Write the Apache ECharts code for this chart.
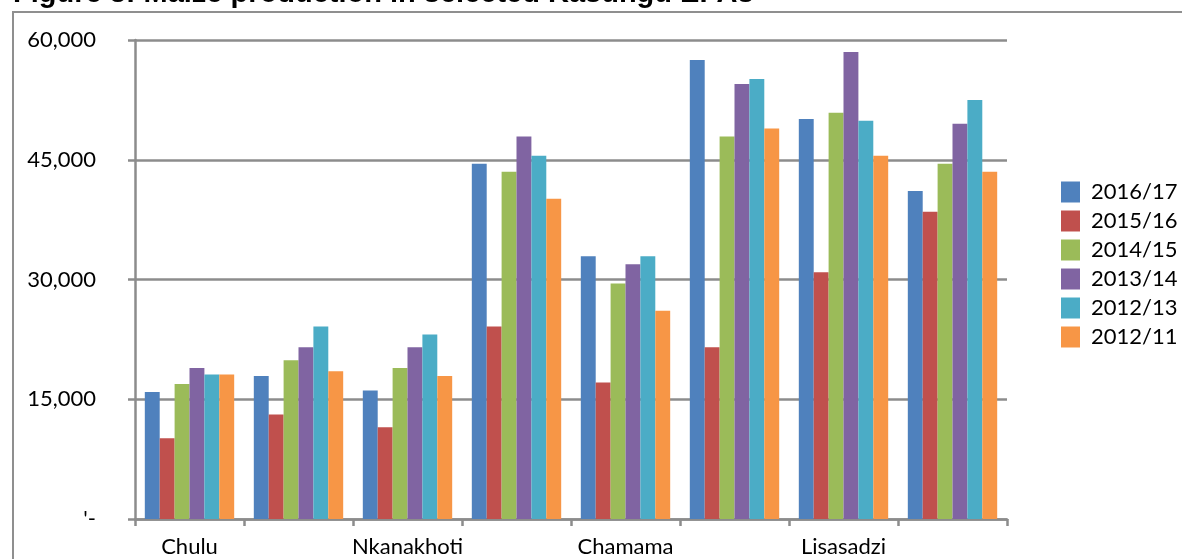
<!DOCTYPE html>
<html>
<head>
<meta charset="utf-8">
<style>
  html, body { margin: 0; padding: 0; background: #ffffff; }
  #chart { width: 1182px; height: 559px; }
</style>
<script src="https://cdn.jsdelivr.net/npm/echarts@6/dist/echarts.min.js"></script>
</head>
<body>
<div id="chart"></div>
<script>
// Maize production (tonnes) by EPA, one bar per season.
// Only every other EPA name is printed under the axis.
const categories = ['Chulu', '', 'Nkanakhoti', '', 'Chamama', '', 'Lisasadzi', ''];
const seasons = ['2016/17', '2015/16', '2014/15', '2013/14', '2012/13', '2012/11'];

const s2016_17 = [15900, 17900, 16100, 44500, 32900, 57500, 50100, 41100];
const s2015_16 = [10100, 13100, 11500, 24100, 17100, 21500, 30900, 38500];
const s2014_15 = [16900, 19900, 18900, 43500, 29500, 47900, 50900, 44500];
const s2013_14 = [18900, 21500, 21500, 47900, 31900, 54500, 58500, 49500];
const s2012_13 = [18100, 24100, 23100, 45500, 32900, 55100, 49900, 52500];
const s2012_11 = [18100, 18500, 17900, 40100, 26100, 48900, 45500, 43500];

const yTicks = [0, 15000, 30000, 45000, 60000];

const seriesValues = [s2016_17, s2015_16, s2014_15, s2013_14, s2012_13, s2012_11];
const palette = ['#4F81BD', '#C0504D', '#9BBB59', '#8064A2', '#4BACC6', '#F79646'];

const FONT = 'Lato, "Open Sans", sans-serif';
const GRID_GRAY = '#8c8c8c';

const chart = echarts.init(document.getElementById('chart'), null, { renderer: 'canvas' });

chart.setOption({
  animation: false,
  color: palette,
  textStyle: { fontFamily: FONT, color: '#000' },
  graphic: [
    {
      // outer chart-area frame (runs off the right and bottom edges)
      type: 'rect',
      shape: { x: 13, y: 12, width: 1300, height: 700 },
      style: { fill: 'none', stroke: '#8f8f8f', lineWidth: 2 },
      silent: true,
      z: 0
    },
    {
      type: 'text',
      x: 13,
      y: 8,
      style: {
        text: 'Figure 3: Maize production in selected Kasungu EPAs',
        font: 'bold 29px "Liberation Sans", Arial, sans-serif',
        fill: '#000',
        verticalAlign: 'bottom'
      },
      silent: true,
      z: 1
    }
  ],
  grid: {
    left: 135,
    right: 175,
    top: 40,
    bottom: 40,
    containLabel: false
  },
  legend: {
    orient: 'vertical',
    left: 1056,
    top: 176,
    itemWidth: 19,
    itemHeight: 21,
    itemGap: 7,
    icon: 'rect',
    data: seasons,
    textStyle: { fontFamily: FONT, fontSize: 22, color: '#000', lineHeight: 20, padding: [0, 0, 0, 6] }
  },
  xAxis: {
    type: 'category',
    data: categories,
    axisLine: { lineStyle: { color: GRID_GRAY, width: 2.5 } },
    axisTick: { show: true, length: 7, inside: false, lineStyle: { color: GRID_GRAY, width: 2.5 } },
    axisLabel: { interval: 0, fontFamily: FONT, fontSize: 22, color: '#000', margin: 17 },
    splitLine: { show: false }
  },
  yAxis: {
    type: 'value',
    min: 0,
    max: yTicks[yTicks.length - 1],
    interval: yTicks[1] - yTicks[0],
    axisLine: { show: true, lineStyle: { color: GRID_GRAY, width: 2.5 } },
    axisTick: { show: true, length: 7, lineStyle: { color: GRID_GRAY, width: 2.5 } },
    splitLine: { show: true, lineStyle: { color: GRID_GRAY, width: 2.5 } },
    axisLabel: {
      fontFamily: FONT,
      fontSize: 22,
      color: '#000',
      margin: 39,
      formatter: function (v) {
        return v === 0 ? "'-" : v.toLocaleString('en-US');
      }
    }
  },
  series: seasons.map(function (name, i) {
    return {
      name: name,
      type: 'bar',
      data: seriesValues[i],
      barGap: '0%',
      barCategoryGap: '18%',
      itemStyle: { color: palette[i] }
    };
  })
});
</script>
</body>
</html>
